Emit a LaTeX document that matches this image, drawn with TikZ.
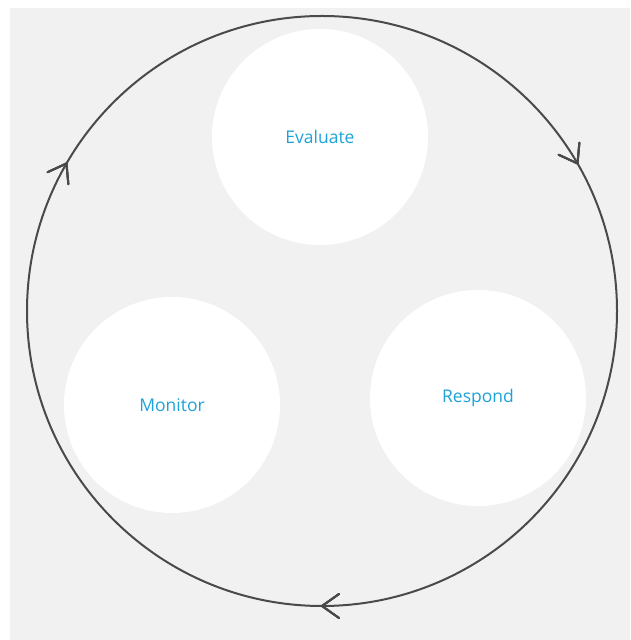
\documentclass[tikz,border=0pt]{standalone}
\usepackage{fontspec}
\setmainfont{Open Sans}
\usetikzlibrary{decorations.markings}
\definecolor{bggray}{HTML}{F1F1F1}
\definecolor{ringgray}{HTML}{4A4A4A}
\definecolor{labelblue}{HTML}{1DA3DA}
\tikzset{
	stage/.style={circle,fill=white,minimum size=216pt,inner sep=0pt,
		text=labelblue,font=\fontsize{17.5}{20}\selectfont},
	ring/.style={draw=ringgray,line width=2pt},
	barb/.style={decoration={markings,
		mark=at position #1 with {\draw[ring,line cap=round,line join=miter] (-17pt,12pt) -- (0,0) -- (-17pt,-12pt);}},
		postaction={decorate}}
}
\begin{document}
\begin{tikzpicture}[x=1pt,y=1pt]
	\useasboundingbox (0,0) rectangle (630,640);
	\fill[bggray] (10,0) rectangle (630,632);
	% the three stages
	\node[stage] (evaluate) at (320,503) {Evaluate};
	\node[stage] (monitor) at (172,235) {Monitor};
	\node[stage] (respond) at (478,242) {Respond};
	% outer cycle, clockwise
	\coordinate (hub) at (322,329);
	\draw[ring,barb=1/12,barb=5/12,barb=9/12] (hub) ++(180:295) arc[start angle=180,end angle=-180,radius=295];
\end{tikzpicture}
\end{document}
